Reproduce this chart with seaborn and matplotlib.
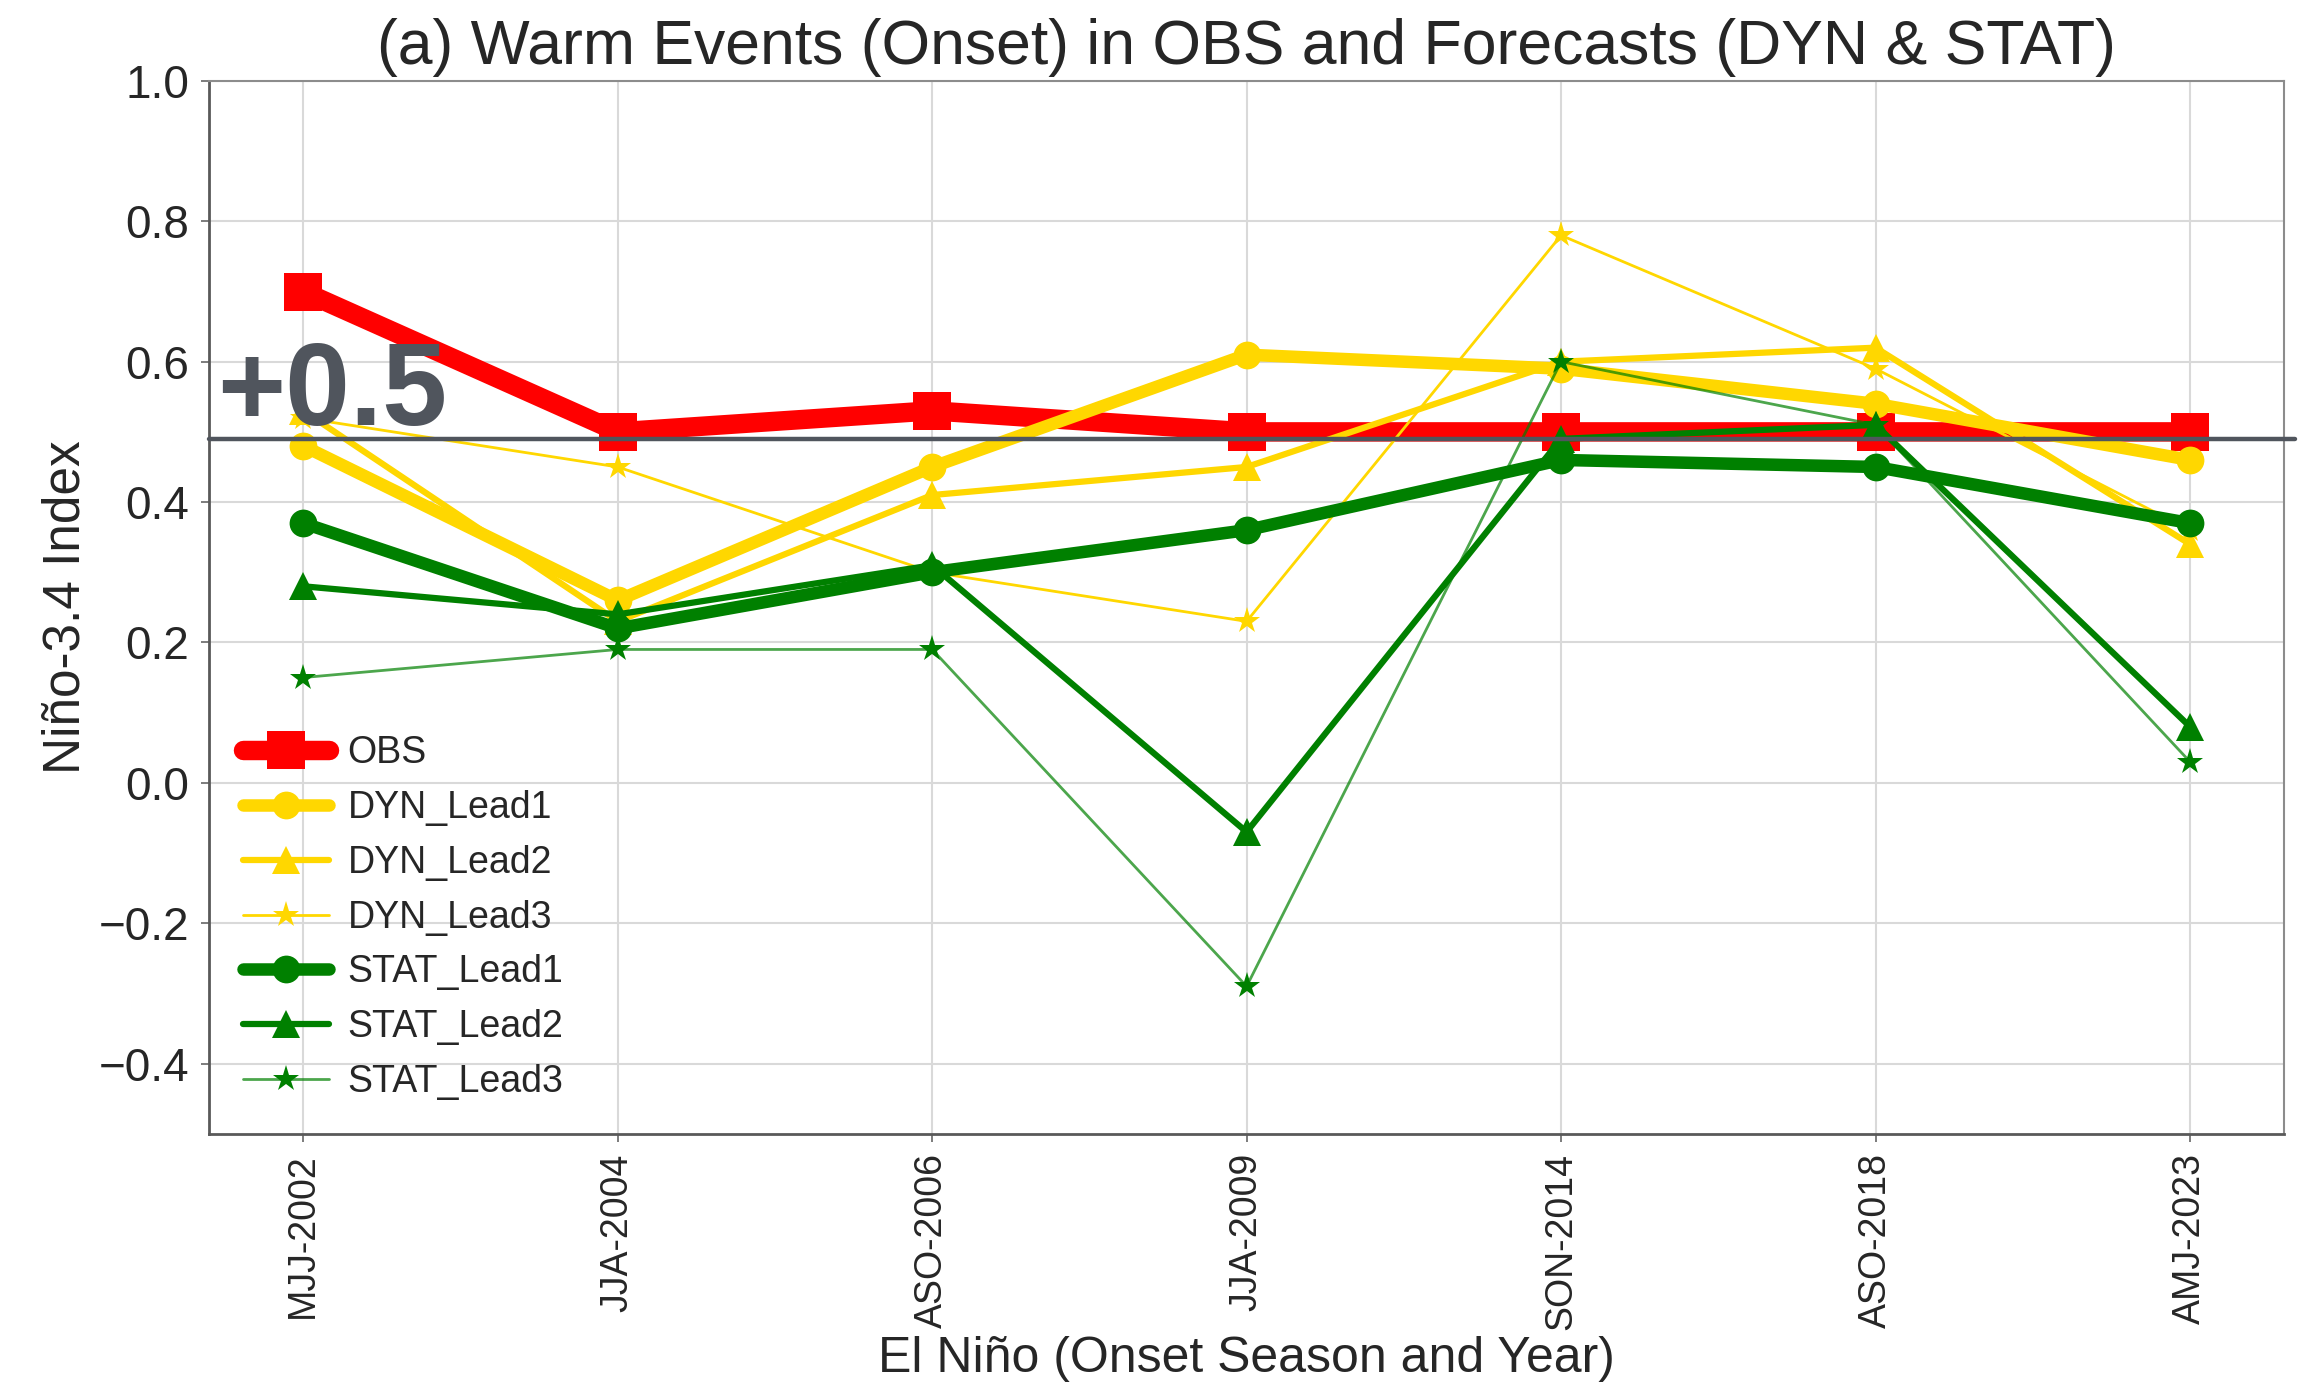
import pandas as pd
import matplotlib
matplotlib.use("Agg")
import matplotlib.pyplot as plt
import seaborn as sns

# === Data ===
seasons = ["MJJ-2002", "JJA-2004", "ASO-2006", "JJA-2009", "SON-2014", "ASO-2018", "AMJ-2023"]
obs = [0.70, 0.50, 0.53, 0.50, 0.50, 0.50, 0.50]
dyn_lead1 = [0.48, 0.26, 0.45, 0.61, 0.59, 0.54, 0.46]
dyn_lead2 = [0.53, 0.23, 0.41, 0.45, 0.60, 0.62, 0.34]
dyn_lead3 = [0.52, 0.45, 0.30, 0.23, 0.78, 0.59, 0.36]
stat_lead1 = [0.37, 0.22, 0.30, 0.36, 0.46, 0.45, 0.37]
stat_lead2 = [0.28, 0.24, 0.31, -0.07, 0.49, 0.51, 0.08]
stat_lead3 = [0.15, 0.19, 0.19, -0.29, 0.60, 0.51, 0.03]
threshold = 0.49

series = {
    "OBS": obs,
    "DYN_Lead1": dyn_lead1,
    "DYN_Lead2": dyn_lead2,
    "DYN_Lead3": dyn_lead3,
    "STAT_Lead1": stat_lead1,
    "STAT_Lead2": stat_lead2,
    "STAT_Lead3": stat_lead3,
}

# name: (line color, marker color, marker, linewidth, markersize)
styles = {
    "OBS": ("red", "red", "s", 14, 27),
    "DYN_Lead1": ("gold", "gold", "o", 9, 20),
    "DYN_Lead2": ("gold", "gold", "^", 4.5, 20),
    "DYN_Lead3": ("gold", "gold", "*", 2, 20),
    "STAT_Lead1": ("green", "green", "o", 9, 20),
    "STAT_Lead2": ("green", "green", "^", 4.5, 20),
    "STAT_Lead3": ((0.0, 0.5, 0.0, 0.7), "green", "*", 2, 20),
}

rows = []
for name, vals in series.items():
    for s, v in zip(seasons, vals):
        rows.append({"season": s, "value": v, "series": name})
df = pd.DataFrame(rows)

# === Plot ===
sns.set_theme(style="whitegrid")
plt.rcParams["font.family"] = ["Liberation Sans", "DejaVu Sans"]

fig = plt.figure(figsize=(23.06, 13.86), dpi=100)
ax = fig.add_axes([0.0906, 0.182, 0.9, 0.7596])

for name in series:
    lcolor, mcolor, marker, lw, ms = styles[name]
    sub = df[df["series"] == name]
    sns.lineplot(data=sub, x="season", y="value", ax=ax, color=lcolor, marker=marker,
                 linewidth=lw, markersize=ms, markeredgewidth=0, markerfacecolor=mcolor,
                 label=name, sort=False, solid_capstyle="round")

ax.axhline(threshold, xmin=0, xmax=1.005, color="#50555d", linewidth=3.2, zorder=10, clip_on=False)
ax.text(-0.275, 0.51, "+0.5", fontsize=84, fontweight="bold", color="#50555d",
        ha="left", va="baseline", zorder=11)

ax.set_xlim(-0.3, 6.3)
ax.set_ylim(-0.5, 1.0)
ax.set_yticks([-0.4, -0.2, 0.0, 0.2, 0.4, 0.6, 0.8, 1.0])
ax.tick_params(axis="y", labelsize=33, length=6, width=1.2, color="0.4", left=True, pad=8)
ax.tick_params(axis="x", labelsize=27, length=6, width=1.2, color="0.4", bottom=True, pad=8)
plt.setp(ax.get_xticklabels(), rotation=90)

ax.set_title("(a) Warm Events (Onset) in OBS and Forecasts (DYN & STAT)", fontsize=45, pad=12)
ax.set_xlabel("El Niño (Onset Season and Year)", fontsize=36, labelpad=4)
ax.set_ylabel("Niño-3.4 Index", fontsize=37, labelpad=6)

ax.grid(True, color="0.85", linewidth=1.5)
for side in ["left", "bottom"]:
    ax.spines[side].set_color("0.35")
    ax.spines[side].set_linewidth(2)
for side in ["top", "right"]:
    ax.spines[side].set_color("0.55")
    ax.spines[side].set_linewidth(1.5)

ax.legend(loc="lower left", fontsize=27, frameon=False, handlelength=2.3,
          labelspacing=0.5, borderaxespad=0.5, handletextpad=0.5)

fig.savefig("out.png", dpi=100)
